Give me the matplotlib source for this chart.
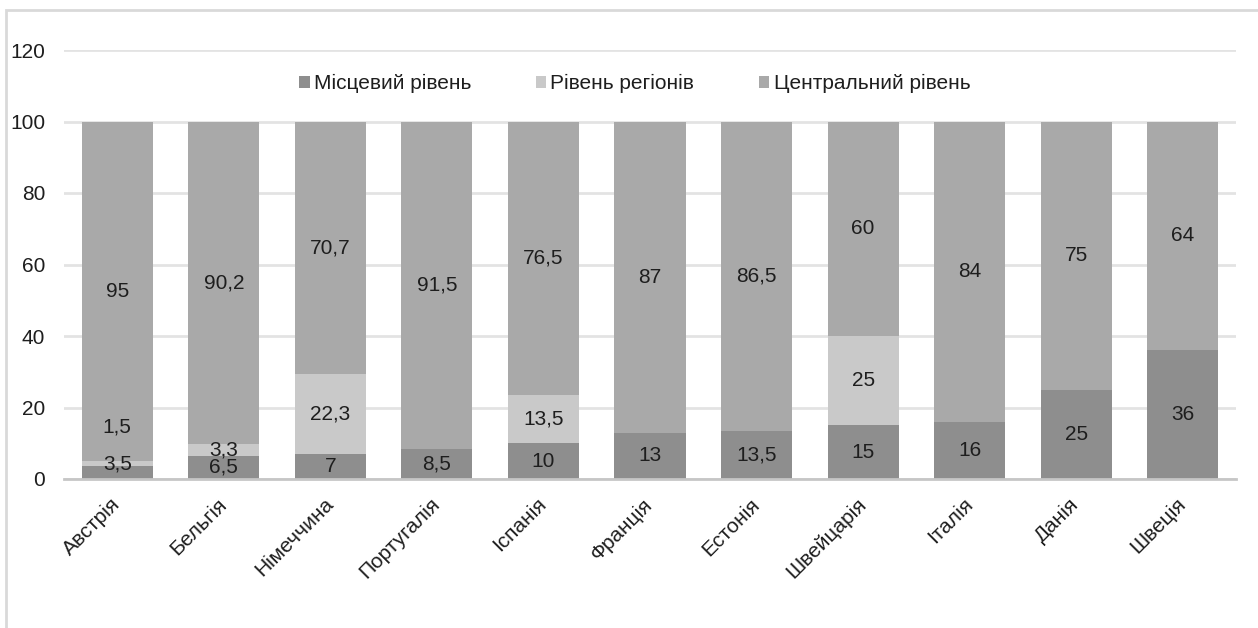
import matplotlib
matplotlib.use("Agg")
import matplotlib.pyplot as plt
from matplotlib.patches import Rectangle
import numpy as np

countries = ["Австрія", "Бельгія", "Німеччина", "Португалія", "Іспанія", "Франція",
             "Естонія", "Швейцарія", "Італія", "Данія", "Швеція"]
local_level = [3.5, 6.5, 7, 8.5, 10, 13, 13.5, 15, 16, 25, 36]
regional_level = [1.5, 3.3, 22.3, 0, 13.5, 0, 0, 25, 0, 0, 0]
central_level = [95, 90.2, 70.7, 91.5, 76.5, 87, 86.5, 60, 84, 75, 64]
series_names = ["Місцевий рівень", "Рівень регіонів", "Центральний рівень"]
y_ticks = [0, 20, 40, 60, 80, 100, 120]

colors = ["#8e8e8e", "#c9c9c9", "#a9a9a9"]
text_color = "#1e1e1e"
font = "Liberation Sans"
fs = 15

# manual label nudges (in data units) as in the original Excel chart
label_nudge = {(0, 1): 10.3, (0, 0): 2.5}

W, H = 1258, 628
fig = plt.figure(figsize=(W / 100, H / 100), dpi=100)
ax = fig.add_axes([64 / W, (H - 479) / H, 1172 / W, (479 - 50) / H])

x = np.arange(len(countries))
series = [local_level, regional_level, central_level]
bottom = np.zeros(len(countries))
width = 0.667
for si, (vals, name, col) in enumerate(zip(series, series_names, colors)):
    vals = np.array(vals, dtype=float)
    ax.bar(x, vals, width, bottom=bottom, color=col, label=name, zorder=3, linewidth=0)
    for i, v in enumerate(vals):
        if v > 0:
            yc = bottom[i] + v / 2 + label_nudge.get((i, si), 0)
            ax.text(x[i], yc, f"{v:g}".replace(".", ","), ha="center", va="center",
                    fontsize=fs, family=font, color=text_color, zorder=4)
    bottom += vals

ax.set_xlim(-0.5, len(countries) - 0.5)
ax.set_ylim(0, 120)
ax.set_yticks(y_ticks)
ax.set_yticklabels([str(t) for t in y_ticks], family=font, fontsize=fs, color=text_color)
ax.tick_params(axis="y", length=0, pad=13.5)
ax.set_xticks(x)
ax.set_xticklabels(countries, rotation=45, ha="right", va="center", rotation_mode="anchor",
                   family=font, fontsize=fs, color=text_color)
ax.tick_params(axis="x", length=0, pad=16)
ax.yaxis.grid(True, color="#e3e3e3", linewidth=2, zorder=0)
ax.set_axisbelow(True)
for s in ["top", "right", "left"]:
    ax.spines[s].set_visible(False)
ax.spines["bottom"].set_color("#c6c6c6")
ax.spines["bottom"].set_linewidth(2)
ax.spines["bottom"].set_zorder(5)

leg = ax.legend(loc="center", bbox_to_anchor=(0.487, 0.921), ncol=3, frameon=False,
                prop={"family": font, "size": fs}, handlelength=0.5, handleheight=0.5,
                handletextpad=0.2, columnspacing=3.1)
for t in leg.get_texts():
    t.set_color(text_color)

fig.add_artist(Rectangle((6 / W, -0.1), 1.2, (H - 10) / H + 0.1, transform=fig.transFigure,
                         fill=False, edgecolor="#d9d9d9", linewidth=2))

fig.savefig("out.png", dpi=100)
